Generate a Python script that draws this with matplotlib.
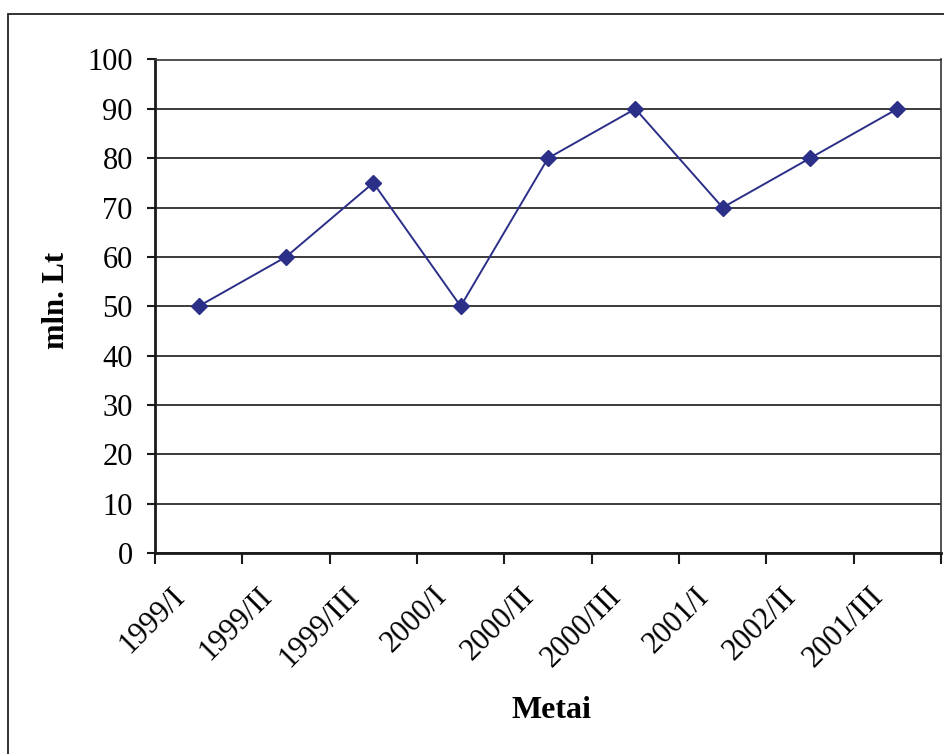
import matplotlib.pyplot as plt
import matplotlib.transforms as mtransforms
from matplotlib.patches import Rectangle
import numpy as np

periods = ['1999/I', '1999/II', '1999/III', '2000/I', '2000/II', '2000/III',
           '2001/I', '2002/II', '2001/III']
values = [50, 60, 75, 50, 80, 90, 70, 80, 90]

plt.rcParams['font.family'] = ['Liberation Serif', 'DejaVu Serif']

fig = plt.figure(figsize=(9.44, 7.54), dpi=100)
ax = fig.add_axes([155/944, 1-553/754, (941-155)/944, (553-59.5)/754])

# outer frame (runs off the right and bottom edges)
fig.patches.append(Rectangle((8/944, -0.1), 1.2, 1 - 14/754 + 0.1, transform=fig.transFigure,
                             fill=False, edgecolor='#222222', linewidth=1.3, zorder=0))

ix = np.arange(len(periods)) + 0.5
ax.plot(ix, values, color='#2B2F88', linewidth=1.4, marker='D', markersize=8, zorder=3)

ax.set_xlim(0, len(periods))
ax.set_ylim(0, 100)
ax.set_yticks(range(0, 101, 10))
ax.yaxis.grid(True, color='#1a1a1a', linewidth=1.2)
ax.set_axisbelow(True)

ax.set_xticks(np.arange(len(periods) + 1))
ax.set_xticklabels([])
ax.tick_params(axis='x', direction='out', length=8, width=1.5, color='#1a1a1a')
ax.tick_params(axis='y', direction='out', length=6, width=1.5, color='#1a1a1a',
               labelsize=22, pad=10)

off = mtransforms.ScaledTranslation(-18/100, -39/100, fig.dpi_scale_trans)
for x, lab in zip(ix, periods):
    ax.text(x, 0, lab, rotation=45, rotation_mode='anchor', ha='right', va='center',
            fontsize=22, transform=ax.get_xaxis_transform() + off)

for s in ['left', 'bottom']:
    ax.spines[s].set_linewidth(2)
    ax.spines[s].set_color('#1a1a1a')
for s in ['top', 'right']:
    ax.spines[s].set_linewidth(1.2)
    ax.spines[s].set_color('#333333')

fig.text(57/944, 1-300/754, 'mln. Lt', rotation=90, ha='center', va='center',
         fontsize=22, fontweight='bold')
fig.text(551/944, 1-711/754, 'Metai', ha='center', va='center',
         fontsize=23, fontweight='bold')

fig.savefig('out.png', dpi=100)
